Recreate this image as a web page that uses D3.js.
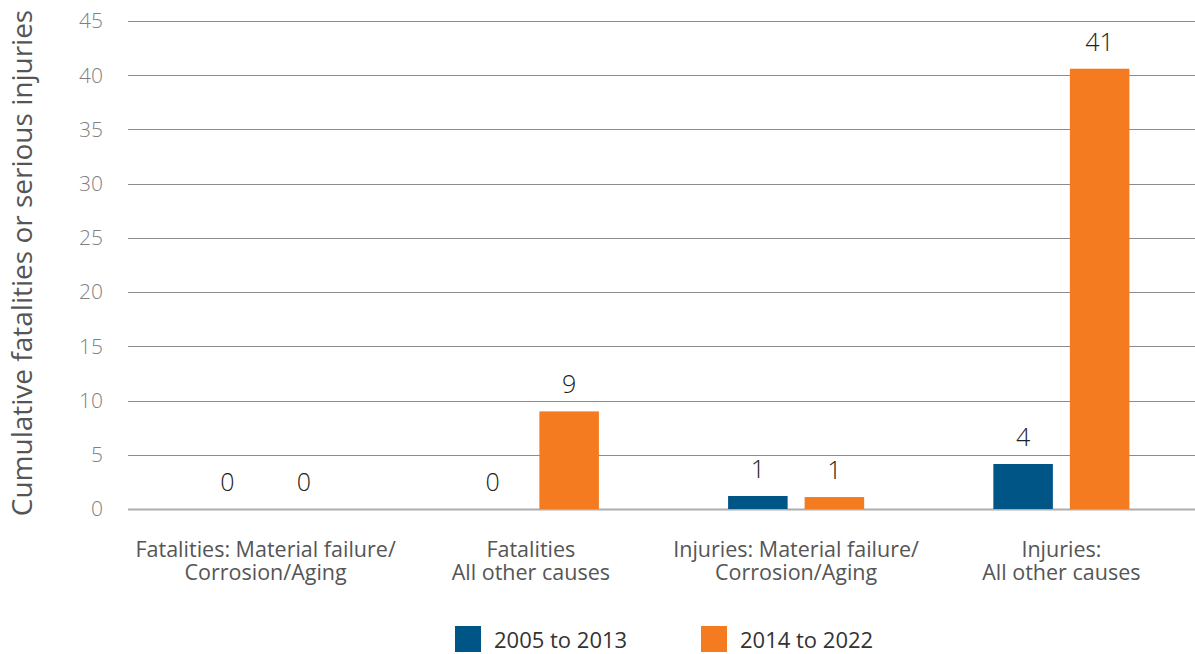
<!DOCTYPE html>
<html>
<head>
<meta charset="utf-8">
<script src="https://cdn.jsdelivr.net/npm/d3@7"></script>
<style>
  body { margin: 0; background: #fff; }
  svg { font-family: "Open Sans", "Noto Sans", sans-serif; }
  .tick-label { fill: #808080; font-size: 21px; font-weight: 300; }
  .grid line { stroke: #8c8c8c; stroke-width: 1; }
  .cat-label { fill: #555; font-size: 21.5px; }
  .val-label { fill: #222; font-size: 25px; font-weight: 300; }
  .legend text { fill: #333; font-size: 22px; }
</style>
</head>
<body>
<svg width="1195" height="654"></svg>
<script>
(function() {
  // chart data
  var categories = [
    ["Fatalities: Material failure/", "Corrosion/Aging"],
    ["Fatalities", "All other causes"],
    ["Injuries: Material failure/", "Corrosion/Aging"],
    ["Injuries:", "All other causes"]
  ];
  var seriesNames = ["2005 to 2013", "2014 to 2022"];
  var series2005 = [0, 0, 1.2, 4.15];
  var series2014 = [0, 9, 1.1, 40.6];
  var yTicks = [0, 5, 10, 15, 20, 25, 30, 35, 40, 45];
  var colors = ["#005587", "#f47b20"];

  var svg = d3.select("svg");

  var top = 21, bottom = 509, left = 128, right = 1195;

  var y = d3.scaleLinear()
      .domain([0, 45])
      .range([bottom, top]);

  var x0 = d3.scaleBand()
      .domain(d3.range(categories.length))
      .range([133, 1194])
      .paddingInner(0.487)
      .paddingOuter(0.2435);

  var x1 = d3.scaleBand()
      .domain(d3.range(seriesNames.length))
      .range([0, x0.bandwidth()])
      .paddingInner(0.222);

  // gridlines
  var grid = svg.append("g").attr("class", "grid");
  grid.selectAll("line")
    .data(yTicks)
    .enter().append("line")
      .attr("x1", left)
      .attr("x2", right)
      .attr("y1", function(d) { return Math.round(y(d)) + 0.5; })
      .attr("y2", function(d) { return Math.round(y(d)) + 0.5; })
      .style("stroke", function(d) { return d === 0 ? "#adadad" : null; })
      .style("stroke-width", function(d) { return d === 0 ? 2 : null; });

  svg.append("g")
    .selectAll("text")
    .data(yTicks)
    .enter().append("text")
      .attr("class", "tick-label")
      .attr("x", 103)
      .attr("y", function(d) { return y(d); })
      .attr("dy", "0.35em")
      .attr("text-anchor", "end")
      .text(function(d) { return d; });

  // y axis title
  svg.append("text")
      .attr("transform", "translate(32," + ((top + bottom) / 2 - 2) + ") rotate(-90)")
      .attr("text-anchor", "middle")
      .attr("fill", "#555")
      .attr("font-size", "28px")
      .text("Cumulative fatalities or serious injuries");

  // bars
  var rows = categories.map(function(c, i) {
    return [series2005[i], series2014[i]];
  });

  var groups = svg.append("g")
    .selectAll("g")
    .data(rows)
    .enter().append("g")
      .attr("transform", function(d, i) { return "translate(" + x0(i) + ",0)"; });

  groups.selectAll("rect")
    .data(function(d) { return d; })
    .enter().append("rect")
      .attr("x", function(d, j) { return x1(j); })
      .attr("y", function(d) { return y(d); })
      .attr("width", x1.bandwidth())
      .attr("height", function(d) { return y(0) - y(d); })
      .attr("fill", function(d, j) { return colors[j]; });

  groups.selectAll(".val-label")
    .data(function(d) { return d; })
    .enter().append("text")
      .attr("class", "val-label")
      .attr("x", function(d, j) { return x1(j) + x1.bandwidth() / 2; })
      .attr("y", function(d) { return y(d) - 18; })
      .attr("text-anchor", "middle")
      .text(function(d) { return d3.format(".0f")(d); });

  // category labels, one text per line
  categories.forEach(function(lines, i) {
    svg.append("g")
      .selectAll("text")
      .data(lines)
      .enter().append("text")
        .attr("class", "cat-label")
        .attr("text-anchor", "middle")
        .attr("x", x0(i) + x0.bandwidth() / 2)
        .attr("y", function(d, k) { return 557 + k * 23; })
        .text(function(d) { return d; });
  });

  // legend
  var legendX = [455, 701];
  var legend = svg.append("g")
      .attr("class", "legend")
    .selectAll("g")
    .data(seriesNames)
    .enter().append("g")
      .attr("transform", function(d, i) { return "translate(" + legendX[i] + ",626)"; });

  legend.append("rect")
      .attr("width", 26)
      .attr("height", 26)
      .attr("fill", function(d, i) { return colors[i]; });

  legend.append("text")
      .attr("x", 39)
      .attr("y", 22)
      .text(function(d) { return d; });
})();
</script>
</body>
</html>
